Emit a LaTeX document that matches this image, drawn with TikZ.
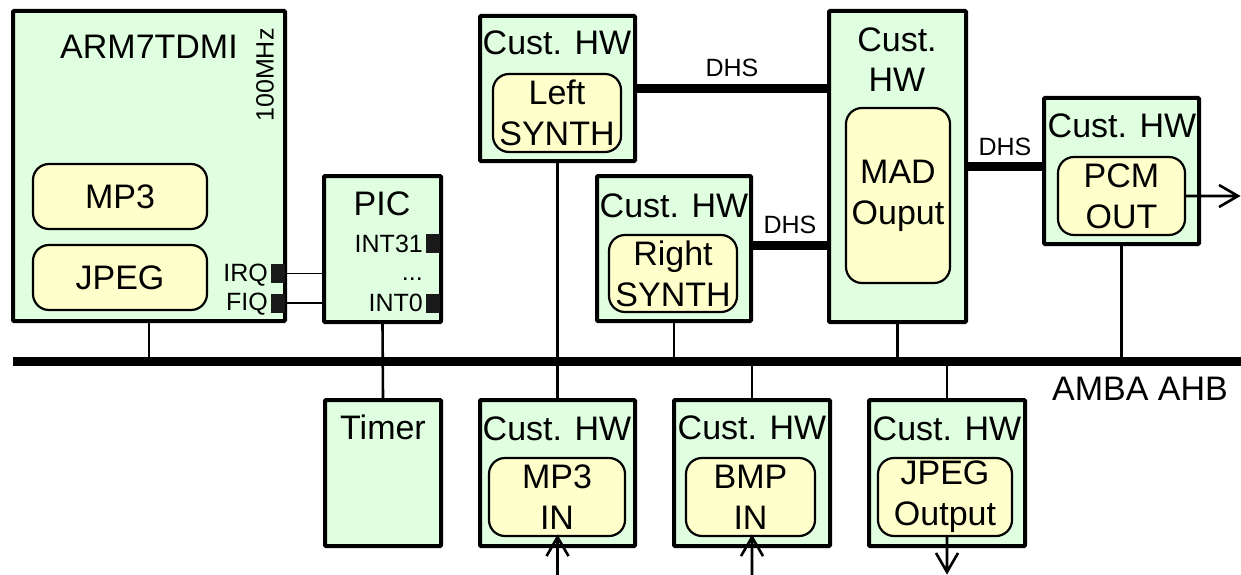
\documentclass[tikz,border=0pt]{standalone}
\usepackage{fontspec}
\setmainfont{Liberation Sans}
\usetikzlibrary{backgrounds}
\definecolor{hwgreen}{RGB}{224,255,224}
\definecolor{swyellow}{RGB}{255,255,204}
\begin{document}
\begin{tikzpicture}[x=1pt,y=-1pt,
  hwbox/.style={draw, line width=4pt, fill=hwgreen, inner sep=0pt, rounded corners=1pt},
  swbox/.style={draw, line width=2.2pt, fill=swyellow, rounded corners=16pt, inner sep=0pt, align=center, font=\fontsize{34}{41}\selectfont},
  big/.style={font=\fontsize{34}{41}\selectfont, inner sep=0pt},
  small/.style={font=\fontsize{25}{30}\selectfont, inner sep=0pt},
  pin/.style={fill=black!90, minimum width=14pt, minimum height=19pt, inner sep=0pt},
  conn/.style={line width=2.6pt},
  thinln/.style={line width=1.4pt},
  dhs/.style={line width=9pt},
  bus/.style={line width=9pt},
  io/.style={line width=2.6pt, miter limit=20}
]
\useasboundingbox (0,0) rectangle (1241,575);

% outer boxes
\node[hwbox, minimum width=272pt, minimum height=310pt] (arm) at (149,166) {};
\node[hwbox, minimum width=117pt, minimum height=146pt] (pic) at (382.5,249) {};
\node[hwbox, minimum width=116pt, minimum height=146pt] (timer) at (383,473) {};
\node[hwbox, minimum width=155pt, minimum height=145pt] (lsyn) at (557.5,88.5) {};
\node[hwbox, minimum width=154pt, minimum height=145pt] (rsyn) at (674,248.5) {};
\node[hwbox, minimum width=137pt, minimum height=311pt] (mad) at (897.5,166.5) {};
\node[hwbox, minimum width=155pt, minimum height=146pt] (pcm) at (1121.5,171) {};
\node[hwbox, minimum width=155pt, minimum height=146pt] (mp3in) at (557.5,473) {};
\node[hwbox, minimum width=156pt, minimum height=146pt] (bmpin) at (752,473) {};
\node[hwbox, minimum width=156pt, minimum height=146pt] (jpgout) at (947,473) {};

% inner boxes
\node[swbox, minimum width=174pt, minimum height=65pt] (mp3) at (120,196.5) {MP3};
\node[swbox, minimum width=174pt, minimum height=65pt] (jpeg) at (120,277.5) {JPEG};
\node[swbox, minimum width=128pt, minimum height=78pt] (lsi) at (557,113) {Left\\SYNTH};
\node[swbox, minimum width=128pt, minimum height=77pt] (rsi) at (673,273.5) {Right\\SYNTH};
\node[swbox, minimum width=104pt, minimum height=175pt] (madi) at (898,195.5) {MAD\\Ouput};
\node[swbox, minimum width=127pt, minimum height=78pt] (pcmi) at (1121.5,196) {PCM\\OUT};
\node[swbox, minimum width=136pt, minimum height=78pt] (mp3i) at (557,497) {MP3\\IN};
\node[swbox, minimum width=129pt, minimum height=78pt] (bmpi) at (750.5,497) {BMP\\IN};
\node[swbox, minimum width=134pt, minimum height=78pt] (jpgi) at (945,497) {JPEG\\Output};

% pins
\node[pin] (irq) at (278,273.5) {};
\node[pin] (fiq) at (278,303) {};
\node[pin] (int31) at (433,243.5) {};
\node[pin] (int0) at (433,303) {};

% texts
\node[big, anchor=base] (armt) at (149,59) {ARM7TDMI};
\node[small, rotate=90] (mhz) at (265,75) {100MHz};
\node[small, anchor=base east] (irqt) at (268,281) {IRQ};
\node[small, anchor=base east] (fiqt) at (268,310) {FIQ};
\node[big, anchor=base] (pict) at (382,215) {PIC};
\node[small, anchor=base east] (int31t) at (423,252) {INT31};
\node[small, anchor=base east] (dotst) at (423,280) {...};
\node[small, anchor=base east] (int0t) at (423,311) {INT0};
\node[big, anchor=base] (timert) at (383,439) {Timer};
\node[big, anchor=base] (lsynt) at (557,55) {Cust. HW};
\node[big, anchor=base] (rsynt) at (674,217) {Cust. HW};
\node[big, anchor=base] (madt1) at (897,52) {Cust.};
\node[big, anchor=base] (madt2) at (897,92) {HW};
\node[big, anchor=base] (pcmt) at (1122,138) {Cust. HW};
\node[big, anchor=base] (mp3int) at (557,440) {Cust. HW};
\node[big, anchor=base] (bmpint) at (752,439) {Cust. HW};
\node[big, anchor=base] (jpgoutt) at (947,440) {Cust. HW};
\node[big, anchor=base] (amba) at (1140,400) {AMBA AHB};
\node[small, anchor=base] (dhs1) at (732,77) {DHS};
\node[small, anchor=base] (dhs2) at (790,233) {DHS};
\node[small, anchor=base] (dhs3) at (1005,155) {DHS};

% bus and free ends
\coordinate (busL) at (13,361.5);
\coordinate (busR) at (1241,361.5);
\coordinate (mp3src) at (557.5,575);
\coordinate (bmpsrc) at (752,575);
\coordinate (jpgdst) at (947,572);
\coordinate (pcmdst) at (1238,196);

\begin{scope}[on background layer]
\draw[bus] (busL) -- (busR);
\draw[conn] (arm.south) -- (arm.south |- busL);
\draw[conn] (pic.south) -- (timer.north);
\draw[conn] (lsyn.south) -- (mp3in.north);
\draw[conn] (rsyn.south) -- (rsyn.south |- busL);
\draw[conn] (busL -| bmpin.north) -- (bmpin.north);
\draw[conn] (mad.south) -- (mad.south |- busL);
\draw[conn] (pcm.south) -- (pcm.south |- busL);
\draw[conn] (busL -| jpgout.north) -- (jpgout.north);
\draw[thinln] (irq.east) -- (irq.east -| pic.west);
\draw[thinln] (fiq.east) -- (fiq.east -| pic.west);
\draw[dhs] (lsyn.east) -- (lsyn.east -| mad.west);
\draw[dhs] ([yshift=3.5pt]rsyn.east) -- ([yshift=3.5pt]rsyn.east -| mad.west);
\draw[dhs] (mad.east) -- (mad.east -| pcm.west);
\end{scope}

% io arrows (open V heads)
\draw[io] (mp3src) -- (mp3src |- mp3i.south) coordinate (mp3tip)
  (mp3tip) ++(-11,19) -- (mp3tip) -- ++(11,19);
\draw[io] (bmpsrc) -- (bmpsrc |- bmpi.south) coordinate (bmptip)
  (bmptip) ++(-11,19) -- (bmptip) -- ++(11,19);
\draw[io] (jpgout.south |- jpgi.south) -- (jpgdst)
  (jpgdst) ++(-11,-19) -- (jpgdst) -- ++(11,-19);
\draw[io] (pcmi.east) -- (pcmdst)
  (pcmdst) ++(-19,-11) -- (pcmdst) -- ++(-19,11);
\end{tikzpicture}
\end{document}
